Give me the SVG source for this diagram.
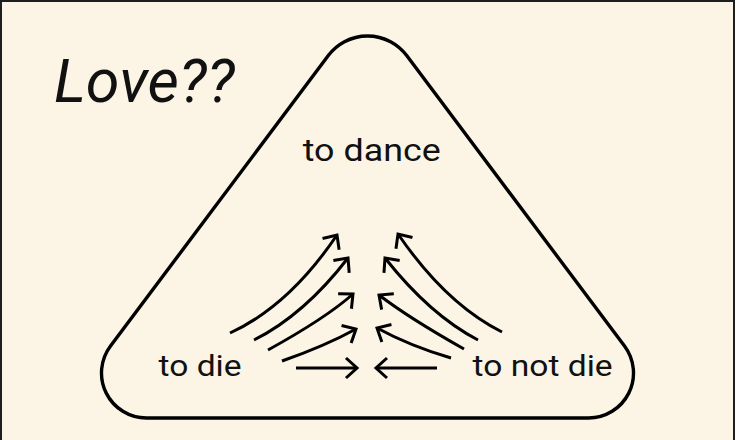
<svg xmlns="http://www.w3.org/2000/svg" width="736" height="440" viewBox="0 0 736 440">
  <style>
    .bg { fill: #fcf5e6; stroke: #1e1e1e; stroke-width: 2; }
    .shape { fill: none; stroke: #000; stroke-width: 3.4; stroke-linejoin: round; }
    .lbl { font-family: "Roboto", "Liberation Sans", sans-serif; fill: #111; text-anchor: middle; }
    .title { font-family: "Roboto", "Liberation Sans", sans-serif; font-style: italic; fill: #111; font-size: 61px; }
    .conn { fill: none; stroke: #000; stroke-width: 3; marker-end: url(#ah); }
  </style>
  <defs>
    <marker id="ah" markerUnits="userSpaceOnUse" viewBox="-16 -16 32 32" markerWidth="32" markerHeight="32" refX="0" refY="0" orient="auto" overflow="visible">
      <path d="M -11 -10 L 0 0 L -11 10" fill="none" stroke="#000" stroke-width="3" stroke-linejoin="miter"/>
    </marker>
  </defs>
  <rect class="bg" x="1" y="1" width="733" height="448"/>
  <g id="triangle">
    <path class="shape" d="M146.5 418 H588.5 A45 45 0 0 0 624.5 346 L406.7 55.6 A49 49 0 0 0 328.3 55.6 L110.5 346 A45 45 0 0 0 146.5 418 Z"/>
  </g>
  <g id="title">
    <text class="title" x="54" y="102.3">Love??</text>
  </g>
  <g id="node-dance" transform="scale(1.12 1)">
    <text class="lbl" x="331.9" y="161" font-size="32">to dance</text>
  </g>
  <g id="node-die" transform="scale(1.12 1)">
    <text class="lbl" x="178.6" y="375.7" font-size="30">to die</text>
  </g>
  <g id="node-notdie" transform="scale(1.12 1)">
    <text class="lbl" x="484.5" y="375.7" font-size="30">to not die</text>
  </g>
  <g id="connectors">
    <path class="conn" d="M230 333 Q289 306 337 235"/>
    <path class="conn" d="M254 340 Q304 315 348 258"/>
    <path class="conn" d="M268 350 Q326 318 353 294"/>
    <path class="conn" d="M282 361 Q325 346 356 329"/>
    <path class="conn" d="M296 368 L357 368"/>
    <path class="conn" d="M502 332 Q446 304 398 234"/>
    <path class="conn" d="M478 340 Q430 315 385 258"/>
    <path class="conn" d="M464 349 Q409 318 379 295"/>
    <path class="conn" d="M451 358 Q410 346 377 328"/>
    <path class="conn" d="M437 368 L376 368"/>
  </g>
</svg>
